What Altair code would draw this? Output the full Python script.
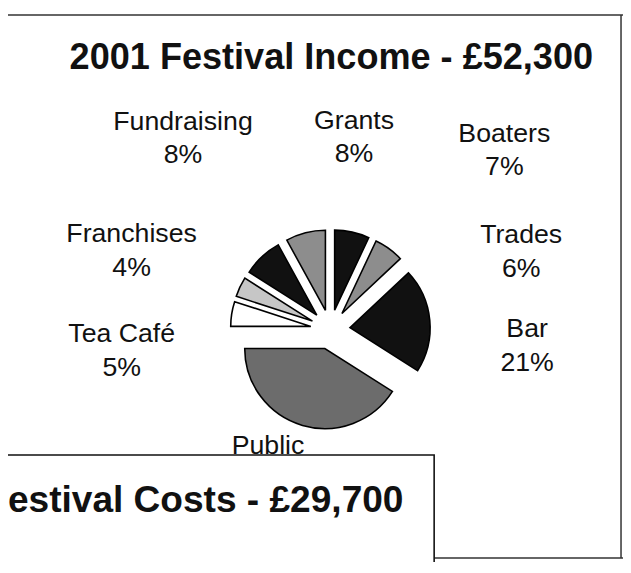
import altair as alt
import pandas as pd

# ---- data ----
categories = ["Boaters", "Trades", "Bar", "Public", "Tea Café", "Franchises", "Fundraising", "Grants"]
percent = [7, 6, 21, 41, 5, 4, 8, 8]
shade = ["black", "hatch", "black", "dark hatch", "white", "light hatch", "black", "hatch"]

title_main = "2001 Festival Income - £52,300"
title_costs = "estival Costs - £29,700"

# ---- layout / style (not data) ----
W, H = 622, 554
CX, CY = 326, 322          # pie centre (px)
RADIUS = 81
EXPLODE = 20
FONT = "Liberation Sans"
shade_domain = ["black", "hatch", "dark hatch", "light hatch", "white"]
shade_range = ["#111111", "#8d8d8d", "#6c6c6c", "#c6c6c6", "#ffffff"]
# label anchor offsets from the pie centre (annotation placement)
label_offset = {
    "Fundraising": (-149, -202),
    "Grants": (24, -203),
    "Boaters": (176, -190),
    "Trades": (193, -87),
    "Bar": (199, 8),
    "Public": (-63, 126),
    "Tea Café": (-211, 13),
    "Franchises": (-201, -88),
}
# the percentage of this label is hidden behind the overlapping costs panel
pct_hidden = {"Public"}

df = pd.DataFrame({
    "category": categories,
    "value": percent,
    "shade": shade,
    "order": list(range(len(categories))),
    "ldx": [label_offset[c][0] for c in categories],
    "ldy": [label_offset[c][1] for c in categories],
    "showpct": [c not in pct_hidden for c in categories],
})

base = alt.Chart(df).transform_joinaggregate(
    total="sum(value)"
).transform_window(
    cum="sum(value)", frame=[None, 0], sort=[alt.SortField("order")]
).transform_calculate(
    t1="datum.cum / datum.total * 2 * PI",
    t0="(datum.cum - datum.value) / datum.total * 2 * PI",
).transform_calculate(
    mid="(datum.t0 + datum.t1) / 2",
).transform_calculate(
    px=f"{CX} + {EXPLODE} * sin(datum.mid)",
    py=f"{CY} - {EXPLODE} * cos(datum.mid)",
    lx=f"{CX} + datum.ldx",
    ly=f"{CY} + datum.ldy",
    label="datum.showpct ? datum.category + '\\n' + datum.value + '%' : datum.category",
)

pie = base.mark_arc(radius=RADIUS, stroke="black", strokeWidth=1.6).encode(
    theta=alt.Theta("t0:Q", scale=None, stack=False),
    theta2="t1:Q",
    x=alt.X("px:Q", scale=None),
    y=alt.Y("py:Q", scale=None),
    fill=alt.Fill("shade:N", scale=alt.Scale(domain=shade_domain, range=shade_range), legend=None),
)

labels = base.mark_text(
    font=FONT, fontSize=27, align="center", baseline="alphabetic",
    lineBreak="\n", lineHeight=34, color="#111111",
).encode(
    x=alt.X("lx:Q", scale=None),
    y=alt.Y("ly:Q", scale=None),
    text="label:N",
)

title = alt.Chart(pd.DataFrame({"t": [title_main]})).mark_text(
    font=FONT, fontSize=36.5, fontWeight="bold", align="center", baseline="alphabetic", color="#111111"
).encode(text="t:N", x=alt.value(327), y=alt.value(59))

top_line = alt.Chart(pd.DataFrame({"a": [0]})).mark_rule(color="#333333", strokeWidth=1.5).encode(
    x=alt.value(0), x2=alt.value(W), y=alt.value(4)
)
right_line = alt.Chart(pd.DataFrame({"a": [0]})).mark_rule(color="#333333", strokeWidth=1.5).encode(
    x=alt.value(620), y=alt.value(4), y2=alt.value(553)
)
bottom_line = alt.Chart(pd.DataFrame({"a": [0]})).mark_rule(color="#333333", strokeWidth=1.5).encode(
    x=alt.value(431), x2=alt.value(W), y=alt.value(553)
)

box = alt.Chart(pd.DataFrame({"a": [0]})).mark_rect(
    fill="white", stroke="#111111", strokeWidth=1.6
).encode(x=alt.value(-10), x2=alt.value(431), y=alt.value(449), y2=alt.value(620))

costs = alt.Chart(pd.DataFrame({"t": [title_costs]})).mark_text(
    font=FONT, fontSize=37.5, fontWeight="bold", align="right", baseline="alphabetic", color="#111111"
).encode(text="t:N", x=alt.value(400), y=alt.value(507))

chart = alt.layer(
    pie, labels, title, top_line, right_line, bottom_line, box, costs
).properties(
    width=W, height=H, padding=0, autosize=alt.AutoSizeParams(type="none"),
    background="white",
).configure_view(stroke=None)

chart.save("out.html", embed_options={"renderer": "svg", "actions": False})
